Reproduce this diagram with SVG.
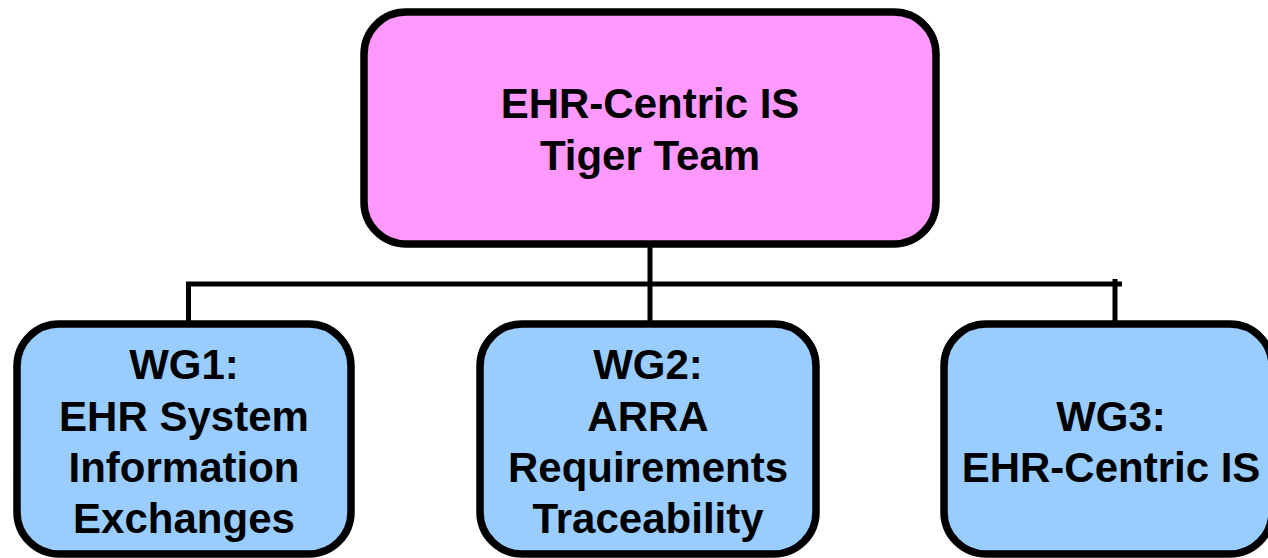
<svg xmlns="http://www.w3.org/2000/svg" width="1268" height="558" viewBox="0 0 1268 558">
<style>
.box{stroke:#000;stroke-width:7.5}
.top{fill:#FF99FF}
.wg{fill:#99CCFF}
.t{font-family:"Liberation Sans",Arial,sans-serif;font-weight:bold;font-size:42px;text-anchor:middle;fill:#000}
.c{stroke:#000;stroke-width:5;fill:none}
</style>
<rect width="1268" height="558" fill="#fff"/>
<g id="connectors">
<line class="c" x1="650" y1="244" x2="650" y2="322"/>
<line class="c" x1="186" y1="284" x2="1122" y2="284"/>
<line class="c" x1="188.5" y1="282" x2="188.5" y2="322"/>
<line class="c" x1="1115" y1="279" x2="1115" y2="322"/>
</g>
<g id="tiger-team">
<rect class="box top" x="364" y="12" width="572" height="232" rx="42"/>
<text class="t" x="650" y="118">EHR-Centric IS</text>
<text class="t" x="650" y="170">Tiger Team</text>
</g>
<g id="wg1">
<rect class="box wg" x="17" y="324" width="334" height="230" rx="42"/>
<text class="t" x="184" y="379">WG1:</text>
<text class="t" x="184" y="431">EHR System</text>
<text class="t" x="184" y="482">Information</text>
<text class="t" x="184" y="533">Exchanges</text>
</g>
<g id="wg2">
<rect class="box wg" x="480" y="324" width="336" height="230" rx="42"/>
<text class="t" x="648" y="379">WG2:</text>
<text class="t" x="648" y="431">ARRA</text>
<text class="t" x="648" y="482">Requirements</text>
<text class="t" x="648" y="533">Traceability</text>
</g>
<g id="wg3">
<rect class="box wg" x="944" y="324" width="328" height="230" rx="42"/>
<text class="t" x="1111" y="431">WG3:</text>
<text class="t" x="1111" y="482">EHR-Centric IS</text>
</g>
</svg>
